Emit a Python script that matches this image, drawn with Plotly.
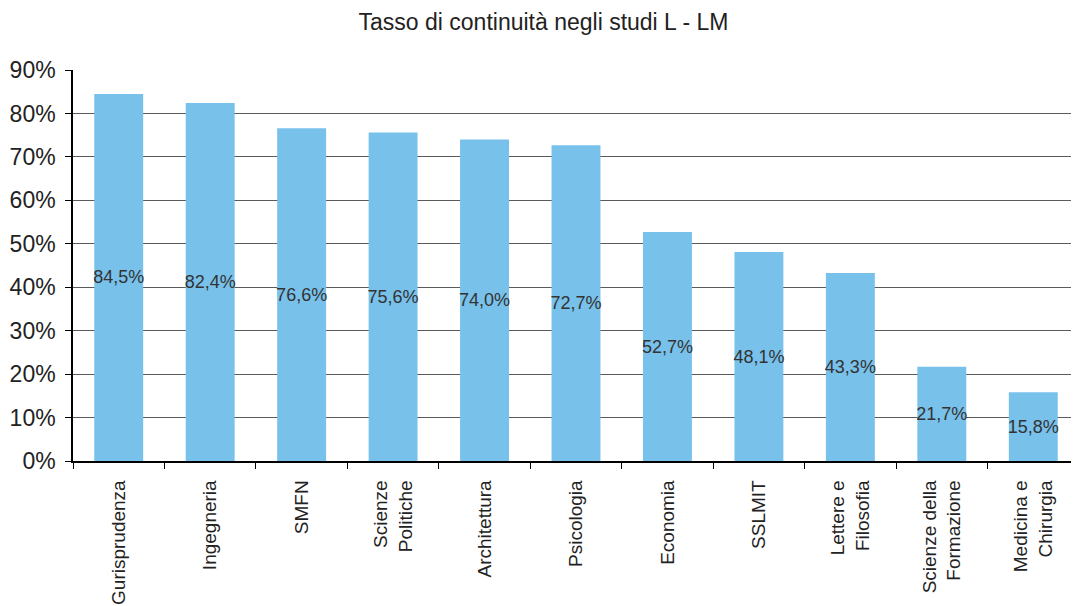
import plotly.graph_objects as go

categories = ["Gurisprudenza", "Ingegneria", "SMFN", "Scienze<br>Politiche", "Architettura",
              "Psicologia", "Economia", "SSLMIT", "Lettere e<br>Filosofia",
              "Scienze della<br>Formazione", "Medicina e<br>Chirurgia"]
values = [84.5, 82.4, 76.6, 75.6, 74.0, 72.7, 52.7, 48.1, 43.3, 21.7, 15.8]
tick_vals = [0, 10, 20, 30, 40, 50, 60, 70, 80, 90]
tick_text = [f"{v}%" for v in tick_vals]
labels = [f"{v:.1f}%".replace(".", ",") for v in values]

FONT = "Liberation Sans, Arial, sans-serif"

fig = go.Figure(go.Bar(
    x=categories, y=values, text=labels,
    textposition="inside", insidetextanchor="middle", constraintext="none",
    textfont=dict(size=18, color="#333333", family=FONT),
    marker=dict(color="#78C1EB", line=dict(width=0)),
    textangle=0, cliponaxis=False,
))

# page body has an 8px margin: figure sits at (8, 8)
fig.update_layout(
    width=1071, height=598,
    margin=dict(l=65, r=0, t=61.5, b=145),
    paper_bgcolor="white", plot_bgcolor="white",
    bargap=0.465,
    showlegend=False,
    uniformtext=dict(mode=False),
    title=dict(text="Tasso di continuità negli studi L - LM", x=0.5, xref="container",
               xanchor="center",
               y=1 - 14 / 598, yref="container", yanchor="middle",
               font=dict(size=23, color="#222222", family=FONT)),
    font=dict(family=FONT, color="#222222"),
)
fig.update_yaxes(range=[0, 90], tickvals=tick_vals, ticktext=tick_text,
                 showgrid=True, gridcolor="#5a5a5a", gridwidth=1.3,
                 showline=True, linecolor="#000000", linewidth=1.5,
                 ticks="outside", ticklen=6, tickcolor="#000000",
                 ticklabelstandoff=5,
                 tickfont=dict(size=23, color="#222222", family=FONT),
                 zeroline=False, fixedrange=True, automargin=False)
fig.update_xaxes(tickangle=-90, showline=True, linecolor="#000000", linewidth=1.5,
                 ticks="outside", tickson="boundaries", ticklen=6, tickcolor="#000000",
                 ticklabelstandoff=10,
                 tickfont=dict(size=19, color="#222222", family=FONT),
                 showgrid=False, automargin=False)

fig.write_html("out.html")
